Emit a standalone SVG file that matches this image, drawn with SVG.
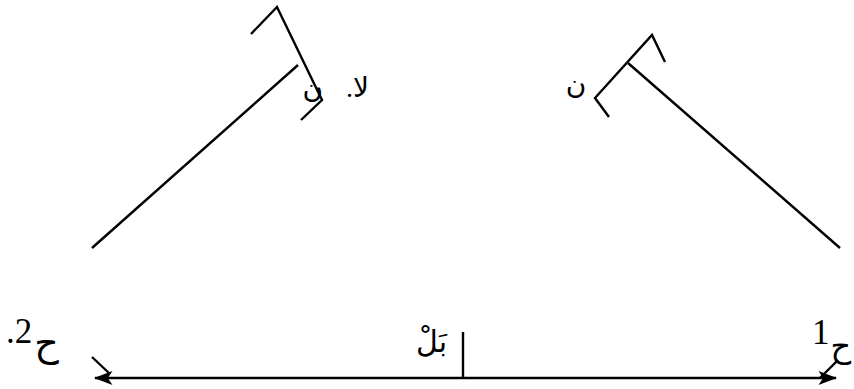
<svg xmlns="http://www.w3.org/2000/svg" width="854" height="389" viewBox="0 0 854 389">
<style>
.ln{stroke:#000;stroke-width:2.4;fill:none;stroke-linecap:butt}
.t{font-family:"Liberation Serif","DejaVu Sans",serif;fill:#000}
.ov{unicode-bidi:bidi-override;direction:ltr}
</style>
<defs>
<marker id="ah" viewBox="0 0 16 12" refX="15" refY="6" markerWidth="19" markerHeight="14" markerUnits="userSpaceOnUse" orient="auto-start-reverse">
<path d="M0,0 L16,6 L0,12 L4,6 Z" fill="#000"/>
</marker>
</defs>
<rect width="854" height="389" fill="#fff"/>
<g id="left-figure">
<line class="ln" x1="92" y1="248" x2="298" y2="65"/>
<polyline class="ln" points="251,34 277,7 322,100 301,120"/>
<text class="t" x="369" y="97" font-size="28" text-anchor="end" word-spacing="16">لا. ن</text>
</g>
<g id="right-figure">
<line class="ln" x1="840" y1="248" x2="628" y2="63"/>
<polyline class="ln" points="665,62 652,35 595,98 609,117"/>
<text class="t" x="576" y="93" font-size="28" text-anchor="middle">ن</text>
</g>
<g id="connectors">
<line class="ln" x1="95" y1="378" x2="836" y2="378" marker-start="url(#ah)" marker-end="url(#ah)"/>
<line class="ln" x1="463" y1="332" x2="463" y2="378"/>
<line class="ln" x1="92" y1="357" x2="110" y2="374"/>
<line class="ln" x1="820" y1="378" x2="838" y2="360"/>
</g>
<g id="labels">
<text class="t ov" x="6" y="343" font-size="35">.2<tspan dx="2" dy="13" font-size="38">ح</tspan></text>
<text class="t ov" x="812" y="344" font-size="35">1<tspan dx="1" dy="13" font-size="32">ح</tspan></text>
<text class="t" x="447" y="352" font-size="30" text-anchor="end">بَلْ</text>
</g>
</svg>
